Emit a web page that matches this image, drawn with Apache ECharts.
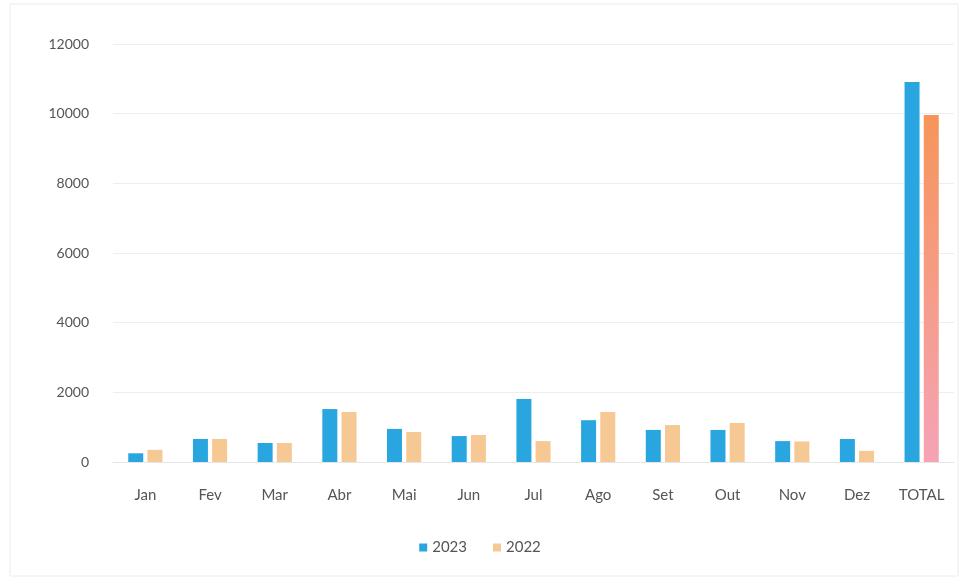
<!DOCTYPE html>
<html>
<head>
<meta charset="utf-8">
<title>2023 vs 2022</title>
<script src="https://cdn.jsdelivr.net/npm/echarts@6/dist/echarts.min.js"></script>
<style>
  html, body { margin: 0; padding: 0; background: #fff; }
  #chart { width: 960px; height: 578px; }
</style>
</head>
<body>
<div id="chart"></div>
<script>
// categorias (meses + total)
const categories = ['Jan', 'Fev', 'Mar', 'Abr', 'Mai', 'Jun', 'Jul', 'Ago', 'Set', 'Out', 'Nov', 'Dez', 'TOTAL'];

// valores
const values2023 = [250, 660, 545, 1520, 950, 745, 1810, 1200, 920, 920, 600, 660, 10910];
const values2022 = [350, 660, 545, 1435, 860, 775, 600, 1435, 1060, 1120, 590, 320, 9960];

// eixo y
const yMin = 0;
const yMax = 12000;
const yStep = 2000;

const chart = echarts.init(document.getElementById('chart'), null, { renderer: 'canvas' });

const totalGradient = new echarts.graphic.LinearGradient(0, 0, 0, 1, [
  { offset: 0, color: '#f6955a' },
  { offset: 1, color: '#f5a3b6' }
]);

const option = {
  backgroundColor: '#fff',
  textStyle: { fontFamily: 'Lato, "Open Sans", sans-serif' },
  graphic: [
    {
      type: 'rect',
      shape: { x: 10, y: 4, width: 948, height: 572 },
      style: { fill: 'none', stroke: '#ececec', lineWidth: 1 },
      silent: true
    }
  ],
  grid: {
    left: 113,
    right: 6,
    top: 44,
    bottom: 116
  },
  legend: {
    bottom: 18,
    left: 'center',
    itemWidth: 8,
    itemHeight: 8,
    itemGap: 26,
    icon: 'rect',
    textStyle: { color: '#555', fontSize: 15, fontFamily: 'Lato, sans-serif' },
    data: ['2023', '2022']
  },
  xAxis: {
    type: 'category',
    data: categories,
    axisLine: { lineStyle: { color: '#e6e6e6' } },
    axisTick: { show: false },
    axisLabel: {
      color: '#555',
      fontSize: 15,
      margin: 26,
      fontFamily: 'Lato, sans-serif'
    }
  },
  yAxis: {
    type: 'value',
    min: yMin,
    max: yMax,
    interval: yStep,
    axisLine: { show: false },
    axisTick: { show: false },
    axisLabel: {
      color: '#555',
      fontSize: 14,
      margin: 24,
      fontFamily: 'Lato, sans-serif',
      formatter: v => String(v)
    },
    splitLine: { lineStyle: { color: '#eeeeee' } }
  },
  series: [
    {
      name: '2023',
      type: 'bar',
      data: values2023,
      barWidth: 15,
      barGap: '28%',
      itemStyle: { color: '#29a6df' }
    },
    {
      name: '2022',
      type: 'bar',
      data: values2022.map((v, i) => (
        categories[i] === 'TOTAL'
          ? { value: v, itemStyle: { color: totalGradient } }
          : v
      )),
      barWidth: 15,
      itemStyle: { color: '#f6c894' }
    }
  ]
};

chart.setOption(option);
</script>
</body>
</html>
